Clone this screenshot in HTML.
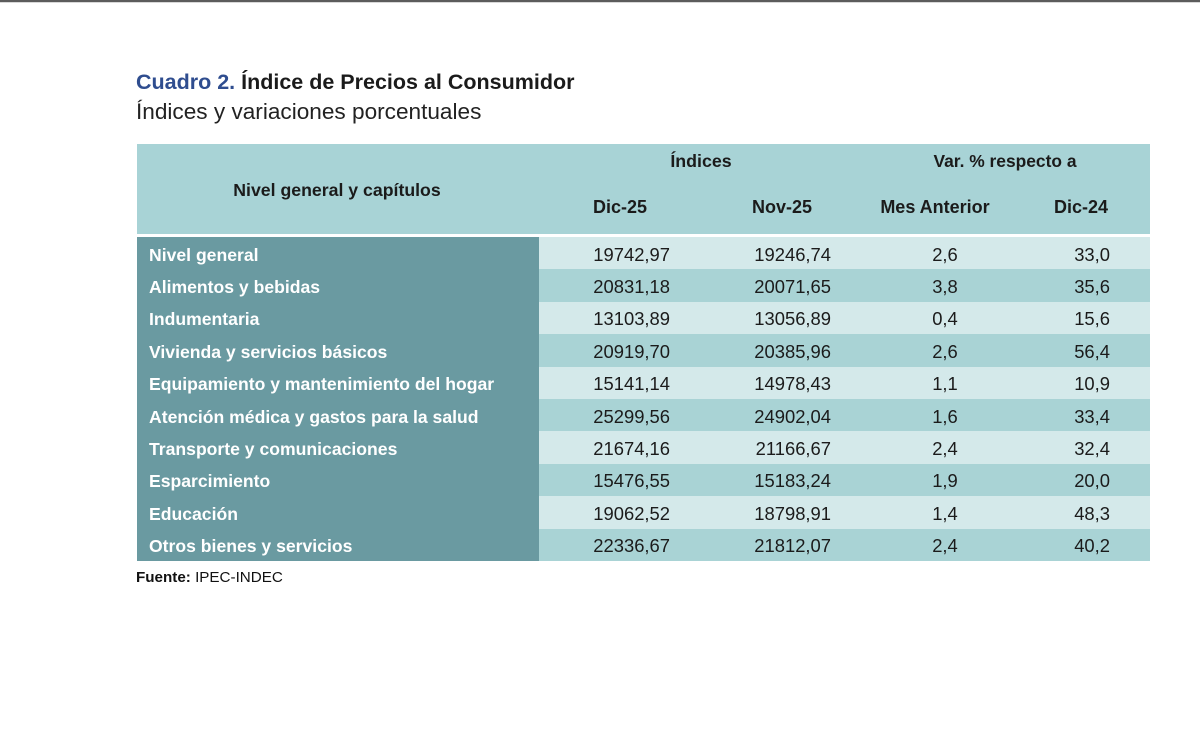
<!DOCTYPE html>
<html>
<head>
<meta charset="utf-8">
<style>
  html, body { margin:0; padding:0; }
  body { width:1200px; height:740px; background:#ffffff; position:relative; overflow:hidden;
         font-family:"Liberation Sans", Arial, sans-serif; color:#1b1b1b; }
  .t { position:absolute; white-space:nowrap; line-height:20px; height:20px; }
  .b { font-weight:bold; }
  .c { text-align:center; width:400px; }
  .r { text-align:right; width:200px; }
  .rect { position:absolute; }
  .lab { color:#ffffff; font-weight:bold; font-size:17.6px; left:149px; }
  .num { font-size:18.4px; }
</style>
</head>
<body>
  <!-- top border -->
  <div class="rect" style="left:0;top:0;width:1200px;height:2px;background:#5c5c5c;"></div>
  <div class="rect" style="left:0;top:2px;width:1200px;height:1px;background:#d8d8d8;"></div>

  <!-- titles -->
  <div class="t b" style="left:136px;top:72px;font-size:21.5px;"><span style="color:#2f4d8f;">Cuadro 2.</span> Índice de Precios al Consumidor</div>
  <div class="t" style="left:136px;top:102px;font-size:22.6px;color:#222;">Índices y variaciones porcentuales</div>

  <!-- header -->
  <div class="rect" style="left:137px;top:144px;width:1013px;height:90px;background:#a8d3d6;"></div>
  <div class="t b c" style="left:137px;top:180px;font-size:17.7px;">Nivel general y capítulos</div>
  <div class="t b c" style="left:501px;top:151px;font-size:17.8px;">Índices</div>
  <div class="t b c" style="left:805px;top:151px;font-size:17.4px;">Var. % respecto a</div>
  <div class="t b c" style="left:420px;top:197px;font-size:18px;">Dic-25</div>
  <div class="t b c" style="left:582px;top:197px;font-size:18px;">Nov-25</div>
  <div class="t b c" style="left:735px;top:197px;font-size:18px;">Mes Anterior</div>
  <div class="t b c" style="left:881px;top:197px;font-size:18px;">Dic-24</div>

  <!-- body rows -->
  <div class="rect" style="left:137px;top:237px;width:402px;height:324px;background:#6a9aa1;"></div>

  <div class="rect" style="left:539px;top:237px;width:611px;height:32.4px;background:#d4e9ea;"></div>
  <div class="rect" style="left:539px;top:269.4px;width:611px;height:32.4px;background:#a9d3d5;"></div>
  <div class="rect" style="left:539px;top:301.8px;width:611px;height:32.4px;background:#d4e9ea;"></div>
  <div class="rect" style="left:539px;top:334.2px;width:611px;height:32.4px;background:#a9d3d5;"></div>
  <div class="rect" style="left:539px;top:366.6px;width:611px;height:32.4px;background:#d4e9ea;"></div>
  <div class="rect" style="left:539px;top:399px;width:611px;height:32.4px;background:#a9d3d5;"></div>
  <div class="rect" style="left:539px;top:431.4px;width:611px;height:32.4px;background:#d4e9ea;"></div>
  <div class="rect" style="left:539px;top:463.8px;width:611px;height:32.4px;background:#a9d3d5;"></div>
  <div class="rect" style="left:539px;top:496.2px;width:611px;height:32.4px;background:#d4e9ea;"></div>
  <div class="rect" style="left:539px;top:528.6px;width:611px;height:32.4px;background:#a9d3d5;"></div>

  <!-- row 0 -->
  <div class="t lab" style="top:244.5px;">Nivel general</div>
  <div class="t r num" style="left:470px;top:244.5px;">19742,97</div>
  <div class="t r num" style="left:631px;top:244.5px;">19246,74</div>
  <div class="t c num" style="left:745px;top:244.5px;">2,6</div>
  <div class="t r num" style="left:910px;top:244.5px;">33,0</div>
  <!-- row 1 -->
  <div class="t lab" style="top:276.9px;">Alimentos y bebidas</div>
  <div class="t r num" style="left:470px;top:276.9px;">20831,18</div>
  <div class="t r num" style="left:631px;top:276.9px;">20071,65</div>
  <div class="t c num" style="left:745px;top:276.9px;">3,8</div>
  <div class="t r num" style="left:910px;top:276.9px;">35,6</div>
  <!-- row 2 -->
  <div class="t lab" style="top:309.3px;">Indumentaria</div>
  <div class="t r num" style="left:470px;top:309.3px;">13103,89</div>
  <div class="t r num" style="left:631px;top:309.3px;">13056,89</div>
  <div class="t c num" style="left:745px;top:309.3px;">0,4</div>
  <div class="t r num" style="left:910px;top:309.3px;">15,6</div>
  <!-- row 3 -->
  <div class="t lab" style="top:341.7px;">Vivienda y servicios básicos</div>
  <div class="t r num" style="left:470px;top:341.7px;">20919,70</div>
  <div class="t r num" style="left:631px;top:341.7px;">20385,96</div>
  <div class="t c num" style="left:745px;top:341.7px;">2,6</div>
  <div class="t r num" style="left:910px;top:341.7px;">56,4</div>
  <!-- row 4 -->
  <div class="t lab" style="top:374.1px;">Equipamiento y mantenimiento del hogar</div>
  <div class="t r num" style="left:470px;top:374.1px;">15141,14</div>
  <div class="t r num" style="left:631px;top:374.1px;">14978,43</div>
  <div class="t c num" style="left:745px;top:374.1px;">1,1</div>
  <div class="t r num" style="left:910px;top:374.1px;">10,9</div>
  <!-- row 5 -->
  <div class="t lab" style="top:406.5px;">Atención médica y gastos para la salud</div>
  <div class="t r num" style="left:470px;top:406.5px;">25299,56</div>
  <div class="t r num" style="left:631px;top:406.5px;">24902,04</div>
  <div class="t c num" style="left:745px;top:406.5px;">1,6</div>
  <div class="t r num" style="left:910px;top:406.5px;">33,4</div>
  <!-- row 6 -->
  <div class="t lab" style="top:438.9px;">Transporte y comunicaciones</div>
  <div class="t r num" style="left:470px;top:438.9px;">21674,16</div>
  <div class="t r num" style="left:631px;top:438.9px;">21166,67</div>
  <div class="t c num" style="left:745px;top:438.9px;">2,4</div>
  <div class="t r num" style="left:910px;top:438.9px;">32,4</div>
  <!-- row 7 -->
  <div class="t lab" style="top:471.3px;">Esparcimiento</div>
  <div class="t r num" style="left:470px;top:471.3px;">15476,55</div>
  <div class="t r num" style="left:631px;top:471.3px;">15183,24</div>
  <div class="t c num" style="left:745px;top:471.3px;">1,9</div>
  <div class="t r num" style="left:910px;top:471.3px;">20,0</div>
  <!-- row 8 -->
  <div class="t lab" style="top:503.7px;">Educación</div>
  <div class="t r num" style="left:470px;top:503.7px;">19062,52</div>
  <div class="t r num" style="left:631px;top:503.7px;">18798,91</div>
  <div class="t c num" style="left:745px;top:503.7px;">1,4</div>
  <div class="t r num" style="left:910px;top:503.7px;">48,3</div>
  <!-- row 9 -->
  <div class="t lab" style="top:536.1px;">Otros bienes y servicios</div>
  <div class="t r num" style="left:470px;top:536.1px;">22336,67</div>
  <div class="t r num" style="left:631px;top:536.1px;">21812,07</div>
  <div class="t c num" style="left:745px;top:536.1px;">2,4</div>
  <div class="t r num" style="left:910px;top:536.1px;">40,2</div>

  <!-- source -->
  <div class="t" style="left:136px;top:568px;font-size:15.2px;color:#111;"><b>Fuente:</b> IPEC-INDEC</div>
</body>
</html>
